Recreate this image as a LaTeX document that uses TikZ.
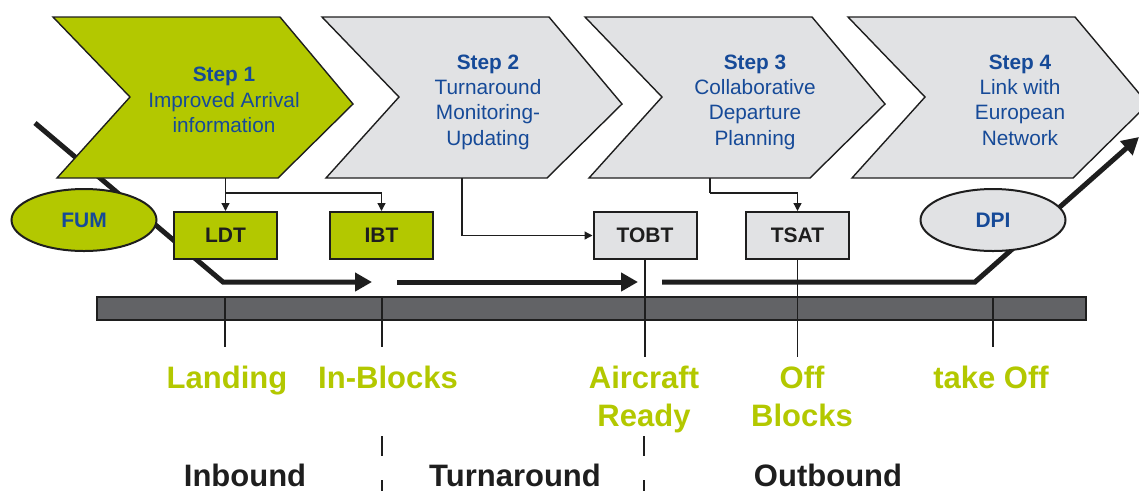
\documentclass[tikz,border=0pt]{standalone}
\usepackage{fontspec}
\setmainfont{Liberation Sans}
\usetikzlibrary{arrows.meta,shapes.geometric}
\definecolor{cgreen}{RGB}{179,200,0}
\definecolor{cblue}{RGB}{22,74,152}
\definecolor{cgray}{RGB}{225,226,228}
\definecolor{cbar}{RGB}{98,99,102}
\definecolor{cink}{RGB}{30,30,30}
\newcommand{\chevpath}[1]{%
  (#1,17) -- ++(227,0) -- ++(73,87) -- ++(-75,74) -- ++(-221,0) -- ++(73,-81) -- cycle}
\begin{document}
\begin{tikzpicture}[x=1pt,y=-1pt,
  chev/.style={draw=cink, line width=1.4pt, line join=miter},
  steptext/.style={align=center, text=cblue, font=\fontsize{20.8}{25.3}\selectfont, inner sep=0pt},
  evbox/.style={draw=cink, line width=2pt, minimum width=103pt, minimum height=47pt,
    font=\fontsize{21}{25}\selectfont\bfseries, text=cink, inner sep=0pt},
  oval/.style={ellipse, draw=cink, line width=2pt, minimum width=145pt, minimum height=62pt,
    font=\fontsize{21}{25}\selectfont\bfseries, text=cblue, inner sep=0pt},
  flowarrow/.style={draw=cink, line width=5pt, line join=miter, -{Triangle[length=17pt,width=18pt]}},
  thinarrow/.style={draw=cink, line width=1.3pt, -{Triangle[length=8pt,width=8pt]}},
  tickline/.style={draw=cink, line width=1.6pt},
  evlabel/.style={text=cgreen, font=\fontsize{31}{38}\selectfont\bfseries, align=center, inner sep=0pt},
  phase/.style={text=cink, font=\fontsize{31}{38}\selectfont\bfseries, inner sep=0pt},
  sep/.style={draw=cink, line width=1.6pt, dash pattern=on 20pt off 24pt}
]
\useasboundingbox (0,0) rectangle (1139,491);
\clip (0,0) rectangle (1139,491);

% thick flow line behind step 1
\coordinate (f0) at (35,123);
\coordinate (f1) at (223,282);
\coordinate (f2) at (372,282);
\draw[flowarrow] (f0) -- (f1) -- (f2);

% chevrons
\filldraw[chev, fill=cgreen] \chevpath{53};
\filldraw[chev, fill=cgray] \chevpath{322};
\filldraw[chev, fill=cgray] \chevpath{585};
\filldraw[chev, fill=cgray] \chevpath{848};

\node[steptext] (t1) at (224,100) {\textbf{Step 1}\\Improved Arrival\\information};
\node[steptext] (t2) at (488,102) {\textbf{Step 2}\\Turnaround\\Monitoring-\\Updating};
\node[steptext] (t3) at (755,102) {\textbf{Step 3}\\Collaborative\\Departure\\Planning};
\node[steptext] (t4) at (1020,100) {\textbf{Step 4}\\Link with\\European\\Network};

% other flow arrows
\coordinate (g0) at (397,282);
\coordinate (g1) at (638,282);
\draw[flowarrow] (g0) -- (g1);
\coordinate (h0) at (662,282);
\coordinate (h1) at (975,282);
\coordinate (h2) at (1139,137);
\draw[flowarrow] (h0) -- (h1) -- (h2);

% timeline bar
\filldraw[draw=cink, line width=2pt, fill=cbar] (97,297) rectangle (1086,320);

% event boxes and ovals
\node[oval, fill=cgreen] (FUM) at (84,220) {FUM};
\node[oval, fill=cgray] (DPI) at (993,220) {DPI};
\node[evbox, fill=cgreen] (LDT) at (225.5,235.5) {LDT};
\node[evbox, fill=cgreen] (IBT) at (381.5,235.5) {IBT};
\node[evbox, fill=cgray] (TOBT) at (645,235.5) {TOBT};
\node[evbox, fill=cgray] (TSAT) at (797.5,235.5) {TSAT};

% connectors from steps
\coordinate (s1b) at (225.5,178);
\coordinate (j1) at (225.5,193);
\draw[thinarrow] (s1b) -- (LDT.north);
\draw[thinarrow] (j1) -| (IBT.north);
\coordinate (s2b) at (462,178);
\draw[thinarrow] (s2b) |- (TOBT.west);
\coordinate (s3b) at (710,178);
\coordinate (j3) at (710,193);
\draw[line width=1.3pt, draw=cink] (s3b) -- (j3);
\draw[thinarrow] (j3) -| (TSAT.north);

% ticks
\coordinate (k1a) at (225,297); \coordinate (k1b) at (225,347);
\coordinate (k2a) at (382,297); \coordinate (k2b) at (382,347);
\coordinate (k3b) at (645,357);
\coordinate (k4b) at (797.5,357);
\coordinate (k5a) at (993,297); \coordinate (k5b) at (993,347);
\draw[tickline] (k1a) -- (k1b);
\draw[tickline] (k2a) -- (k2b);
\draw[tickline] (TOBT.south) -- (k3b);
\draw[tickline] (TSAT.south) -- (k4b);
\draw[tickline] (k5a) -- (k5b);

% event labels
\node[evlabel, anchor=base] (landing) at (227,388) {Landing};
\node[evlabel, anchor=base] (inblocks) at (388,388) {In-Blocks};
\node[evlabel] (ready) at (644,399) {Aircraft\\Ready};
\node[evlabel] (offblocks) at (802,396) {Off\\Blocks};
\node[evlabel, anchor=base] (takeoff) at (991,388) {take Off};

% phase separators
\coordinate (d1a) at (382,436); \coordinate (d1b) at (382,491);
\coordinate (d2a) at (644,436); \coordinate (d2b) at (644,491);
\draw[sep] (d1a) -- (d1b);
\draw[sep] (d2a) -- (d2b);

% phase labels
\node[phase, anchor=base] (inbound) at (245,486) {Inbound};
\node[phase, anchor=base] (turn) at (515,486) {Turnaround};
\node[phase, anchor=base] (outbound) at (828,486) {Outbound};
\end{tikzpicture}
\end{document}
